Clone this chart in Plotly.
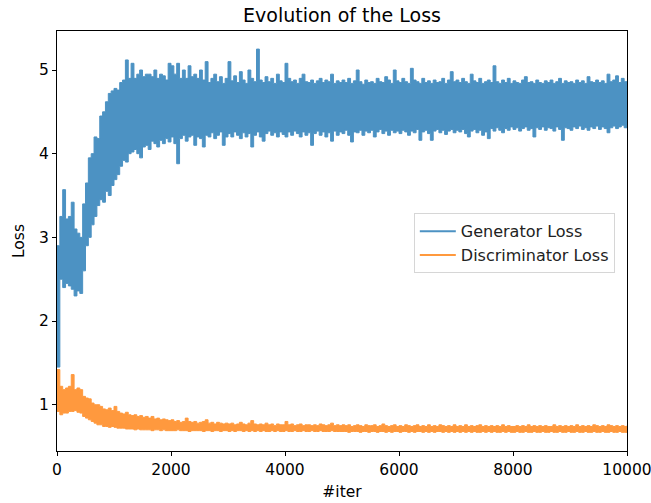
import plotly.graph_objects as go

# iteration index of each sample (every 50 iterations)
iters = list(range(0, 10001, 50))

# Generator loss band (upper / lower edge)
gen_upper = [
    2.90, 3.25, 3.57, 3.22, 3.25, 3.42, 3.10, 3.05, 3.00, 3.40,
    3.65, 3.95, 4.00, 4.20, 4.18, 4.45, 4.50, 4.62, 4.72, 4.75,
    4.78, 4.76, 4.85, 4.88, 5.12, 4.90, 5.08, 4.90, 4.95, 5.00,
    4.92, 4.95, 4.95, 4.92, 5.00, 4.90, 4.95, 4.93, 4.88, 5.08,
    5.05, 4.95, 5.08, 4.90, 5.00, 4.90, 5.05, 4.92, 4.95, 4.90,
    5.00, 4.88, 5.10, 4.85, 4.90, 4.95, 4.86, 4.92, 4.84, 4.90,
    5.10, 4.87, 4.93, 4.85, 4.98, 4.88, 4.84, 5.00, 4.90, 4.86,
    5.25, 4.88, 4.85, 4.92, 4.86, 4.90, 4.84, 4.95, 4.87, 4.85,
    5.08, 4.90, 4.86, 4.88, 4.84, 4.90, 4.95, 4.86, 4.85, 4.88,
    4.84, 4.87, 4.90, 4.85, 4.88, 4.86, 4.95, 4.84, 4.87, 4.85,
    4.88, 4.85, 4.90, 4.84, 4.87, 5.00, 4.86, 4.83, 4.88, 4.85,
    4.86, 4.84, 4.90, 4.86, 4.85, 4.92, 4.88, 4.84, 5.00, 4.87,
    4.85, 4.90, 4.86, 4.84, 5.02, 4.88, 4.86, 4.84, 4.90, 4.85,
    4.87, 4.84, 4.88, 4.85, 4.86, 4.90, 4.84, 4.88, 4.98, 4.86,
    4.88, 4.85, 4.90, 4.86, 4.84, 4.95, 4.87, 4.85, 4.90, 4.84,
    4.86, 4.88, 4.85, 5.05, 4.86, 4.84, 4.88, 4.85, 4.90, 4.84,
    4.87, 4.85, 4.84, 4.88, 4.92, 4.85, 4.86, 4.84, 4.88, 4.85,
    4.84, 4.87, 4.85, 4.88, 4.84, 4.86, 4.90, 4.84, 4.87, 4.85,
    4.86, 4.84, 4.88, 4.85, 4.87, 4.84, 4.92, 4.86, 4.85, 4.88,
    4.85, 4.87, 4.84, 4.95, 4.86, 4.88, 4.93, 4.85, 4.90, 4.86,
    4.85,
]
gen_lower = [
    1.45, 2.50, 2.40, 2.45, 2.42, 2.38, 2.30, 2.36, 2.33, 2.60,
    2.90, 3.00, 3.15, 3.25, 3.38, 3.45, 3.42, 3.55, 3.50, 3.62,
    3.69, 3.75, 3.85, 3.92, 3.90, 4.00, 4.02, 4.05, 4.00, 3.95,
    4.08, 4.10, 4.05, 4.15, 4.12, 4.08, 4.16, 4.12, 4.18, 4.14,
    4.20, 4.12, 3.88, 4.18, 4.22, 4.15, 4.20, 4.22, 4.10, 4.20,
    4.18, 4.08, 4.22, 4.20, 4.25, 4.18, 4.22, 4.26, 4.10, 4.20,
    4.24, 4.20, 4.26, 4.22, 4.18, 4.25, 4.20, 4.24, 4.08, 4.22,
    4.26, 4.20, 4.15, 4.24, 4.27, 4.22, 4.25, 4.20, 4.26, 4.23,
    4.20, 4.26, 4.22, 4.27, 4.24, 4.20, 4.26, 4.22, 4.25, 4.10,
    4.24, 4.27, 4.22, 4.26, 4.20, 4.25, 4.15, 4.27, 4.22, 4.26,
    4.24, 4.28, 4.22, 4.14, 4.26, 4.25, 4.28, 4.22, 4.27, 4.25,
    4.28, 4.20, 4.26, 4.29, 4.24, 4.27, 4.22, 4.28, 4.25, 4.27,
    4.24, 4.28, 4.26, 4.22, 4.27, 4.25, 4.29, 4.16, 4.26, 4.28,
    4.24, 4.16, 4.27, 4.29, 4.25, 4.28, 4.23, 4.27, 4.29, 4.25,
    4.28, 4.26, 4.29, 4.24, 4.20, 4.27, 4.29, 4.25, 4.28, 4.22,
    4.26, 4.18, 4.30, 4.27, 4.31, 4.28, 4.25, 4.30, 4.28, 4.32,
    4.29, 4.31, 4.27, 4.30, 4.32, 4.28, 4.30, 4.20, 4.31, 4.29,
    4.32, 4.28, 4.31, 4.30, 4.27, 4.32, 4.29, 4.16, 4.31, 4.30,
    4.28, 4.32, 4.30, 4.33, 4.29, 4.31, 4.28, 4.32, 4.30, 4.33,
    4.29, 4.32, 4.30, 4.25, 4.31, 4.33, 4.30, 4.32, 4.34, 4.31,
    4.33,
]

# Discriminator loss band
disc_upper = [
    1.42, 1.22, 1.18, 1.20, 1.22, 1.36, 1.18, 1.20, 1.18, 1.10,
    1.08, 1.07, 1.02, 1.00, 1.00, 0.98, 0.95, 0.94, 0.96, 0.93,
    0.98, 0.92, 0.90, 0.89, 0.91, 0.88, 0.87, 0.88, 0.86, 0.87,
    0.85, 0.86, 0.84, 0.86, 0.83, 0.84, 0.82, 0.83, 0.82, 0.81,
    0.82, 0.80, 0.81, 0.79, 0.80, 0.84, 0.80, 0.79, 0.80, 0.78,
    0.79, 0.80, 0.82, 0.78, 0.79, 0.77, 0.79, 0.78, 0.77, 0.78,
    0.77, 0.78, 0.76, 0.77, 0.79, 0.77, 0.76, 0.78, 0.81, 0.77,
    0.76, 0.77, 0.76, 0.78, 0.76, 0.77, 0.75, 0.77, 0.76, 0.76,
    0.80, 0.76, 0.77, 0.75, 0.76, 0.77, 0.75, 0.76, 0.76, 0.75,
    0.76, 0.75, 0.77, 0.76, 0.75, 0.76, 0.78, 0.75, 0.76, 0.75,
    0.76, 0.75, 0.76, 0.74, 0.75, 0.76, 0.75, 0.74, 0.76, 0.75,
    0.75, 0.76, 0.74, 0.75, 0.77, 0.75, 0.74, 0.75, 0.76, 0.74,
    0.75, 0.74, 0.76, 0.75, 0.74, 0.75, 0.76, 0.74, 0.75, 0.74,
    0.76, 0.74, 0.75, 0.74, 0.76, 0.75, 0.74, 0.75, 0.74, 0.76,
    0.74, 0.75, 0.74, 0.76, 0.74, 0.75, 0.74, 0.75, 0.76, 0.74,
    0.75, 0.74, 0.75, 0.74, 0.75, 0.74, 0.76, 0.74, 0.75, 0.74,
    0.74, 0.75, 0.74, 0.75, 0.74, 0.76, 0.74, 0.75, 0.74, 0.75,
    0.74, 0.75, 0.74, 0.74, 0.76, 0.74, 0.75, 0.74, 0.75, 0.74,
    0.75, 0.74, 0.76, 0.74, 0.75, 0.74, 0.75, 0.74, 0.76, 0.75,
    0.74, 0.75, 0.74, 0.76, 0.75, 0.74, 0.75, 0.74, 0.75, 0.74,
    0.75,
]
disc_lower = [
    0.92, 0.88, 0.90, 0.90, 0.92, 0.92, 0.93, 0.91, 0.90, 0.86,
    0.84, 0.82, 0.80, 0.78, 0.76, 0.76, 0.74, 0.74, 0.73, 0.74,
    0.73, 0.72, 0.72, 0.72, 0.71, 0.71, 0.71, 0.70, 0.71, 0.70,
    0.70, 0.70, 0.70, 0.69, 0.70, 0.70, 0.69, 0.70, 0.69, 0.69,
    0.69, 0.69, 0.70, 0.69, 0.69, 0.69, 0.68, 0.69, 0.69, 0.69,
    0.69, 0.68, 0.69, 0.69, 0.68, 0.69, 0.69, 0.68, 0.69, 0.69,
    0.68, 0.69, 0.68, 0.69, 0.69, 0.68, 0.69, 0.68, 0.69, 0.68,
    0.69, 0.68, 0.69, 0.68, 0.68, 0.69, 0.68, 0.69, 0.68, 0.68,
    0.69, 0.68, 0.68, 0.69, 0.68, 0.68, 0.69, 0.68, 0.68, 0.69,
    0.68, 0.68, 0.69, 0.68, 0.68, 0.68, 0.69, 0.68, 0.68, 0.68,
    0.68, 0.68, 0.67, 0.68, 0.68, 0.68, 0.67, 0.68, 0.68, 0.67,
    0.68, 0.68, 0.67, 0.68, 0.68, 0.67, 0.68, 0.67, 0.68, 0.68,
    0.67, 0.68, 0.68, 0.67, 0.68, 0.67, 0.68, 0.68, 0.67, 0.68,
    0.67, 0.68, 0.67, 0.68, 0.68, 0.67, 0.68, 0.67, 0.68, 0.67,
    0.68, 0.67, 0.68, 0.67, 0.68, 0.67, 0.68, 0.67, 0.67, 0.68,
    0.67, 0.68, 0.67, 0.68, 0.67, 0.67, 0.68, 0.67, 0.68, 0.67,
    0.67, 0.68, 0.67, 0.67, 0.68, 0.67, 0.67, 0.68, 0.67, 0.67,
    0.68, 0.67, 0.67, 0.68, 0.67, 0.67, 0.68, 0.67, 0.67, 0.68,
    0.67, 0.67, 0.68, 0.67, 0.67, 0.68, 0.67, 0.67, 0.68, 0.67,
    0.67, 0.68, 0.67, 0.67, 0.68, 0.67, 0.67, 0.68, 0.67, 0.67,
    0.68,
]

series_names = ["Generator Loss", "Discriminator Loss"]
x_ticks = [0, 2000, 4000, 6000, 8000, 10000]
y_ticks = [1, 2, 3, 4, 5]

BLUE_S = "rgb(76,146,195)"     # tab:blue at alpha 0.8 on white
ORANGE_S = "rgb(255,153,62)"   # tab:orange at alpha 0.8 on white
FONT = "DejaVu Sans"
TICK_SIZE = 15.5

fig = go.Figure()

for lo, hi, solid in [
    (gen_lower, gen_upper, BLUE_S),
    (disc_lower, disc_upper, ORANGE_S),
]:
    fig.add_trace(go.Scatter(
        x=iters, y=lo, mode="lines", line=dict(color=solid, width=1, shape="hv"),
        showlegend=False, hoverinfo="skip"))
    fig.add_trace(go.Scatter(
        x=iters, y=hi, mode="lines", line=dict(color=solid, width=1, shape="hv"),
        fill="tonexty", fillcolor=solid, showlegend=False, hoverinfo="skip"))

# legend entries
for col, name, grp in [(BLUE_S, series_names[0], "g"), (ORANGE_S, series_names[1], "d")]:
    fig.add_trace(go.Scatter(x=[None], y=[None], mode="lines", name=name,
                             legendgroup=grp, line=dict(color=col, width=2)))

axis_common = dict(
    showline=True, linecolor="black", linewidth=1, mirror=True,
    ticks="outside", ticklen=4, tickwidth=1, tickcolor="black",
    showgrid=False, zeroline=False, automargin=False,
    ticklabeloverflow="allow",
    tickfont=dict(family=FONT, size=TICK_SIZE, color="black"),
)

fig.update_layout(
    width=651, height=503,
    margin=dict(l=57, r=24, t=31, b=52),
    paper_bgcolor="white", plot_bgcolor="white",
    font=dict(family=FONT, size=TICK_SIZE, color="black"),
    title=dict(text="Evolution of the Loss", x=0.5, xref="paper",
               y=1 - 15 / 503, yref="container", yanchor="middle",
               font=dict(family=FONT, size=19, color="black")),
    xaxis=dict(range=[0, 10000], tickvals=x_ticks, tickformat="d",
               title=dict(text="#iter", standoff=8,
                          font=dict(family=FONT, size=TICK_SIZE, color="black")),
               **axis_common),
    yaxis=dict(range=[0.447, 5.466], tickvals=y_ticks,
               title=dict(text="Loss", standoff=10,
                          font=dict(family=FONT, size=TICK_SIZE, color="black")),
               **axis_common),
    legend=dict(x=0.626, y=0.566, xanchor="left", yanchor="top",
                bgcolor="rgba(255,255,255,0.8)", bordercolor="#d6d6d6", borderwidth=1,
                font=dict(family=FONT, size=16, color="#222222"),
                traceorder="grouped", tracegroupgap=0, itemwidth=36),
    showlegend=True,
)

fig.write_html(
    "out.html",
    config={"displayModeBar": False},
    post_script="document.body.style.margin='0';document.body.style.overflow='hidden';",
)
